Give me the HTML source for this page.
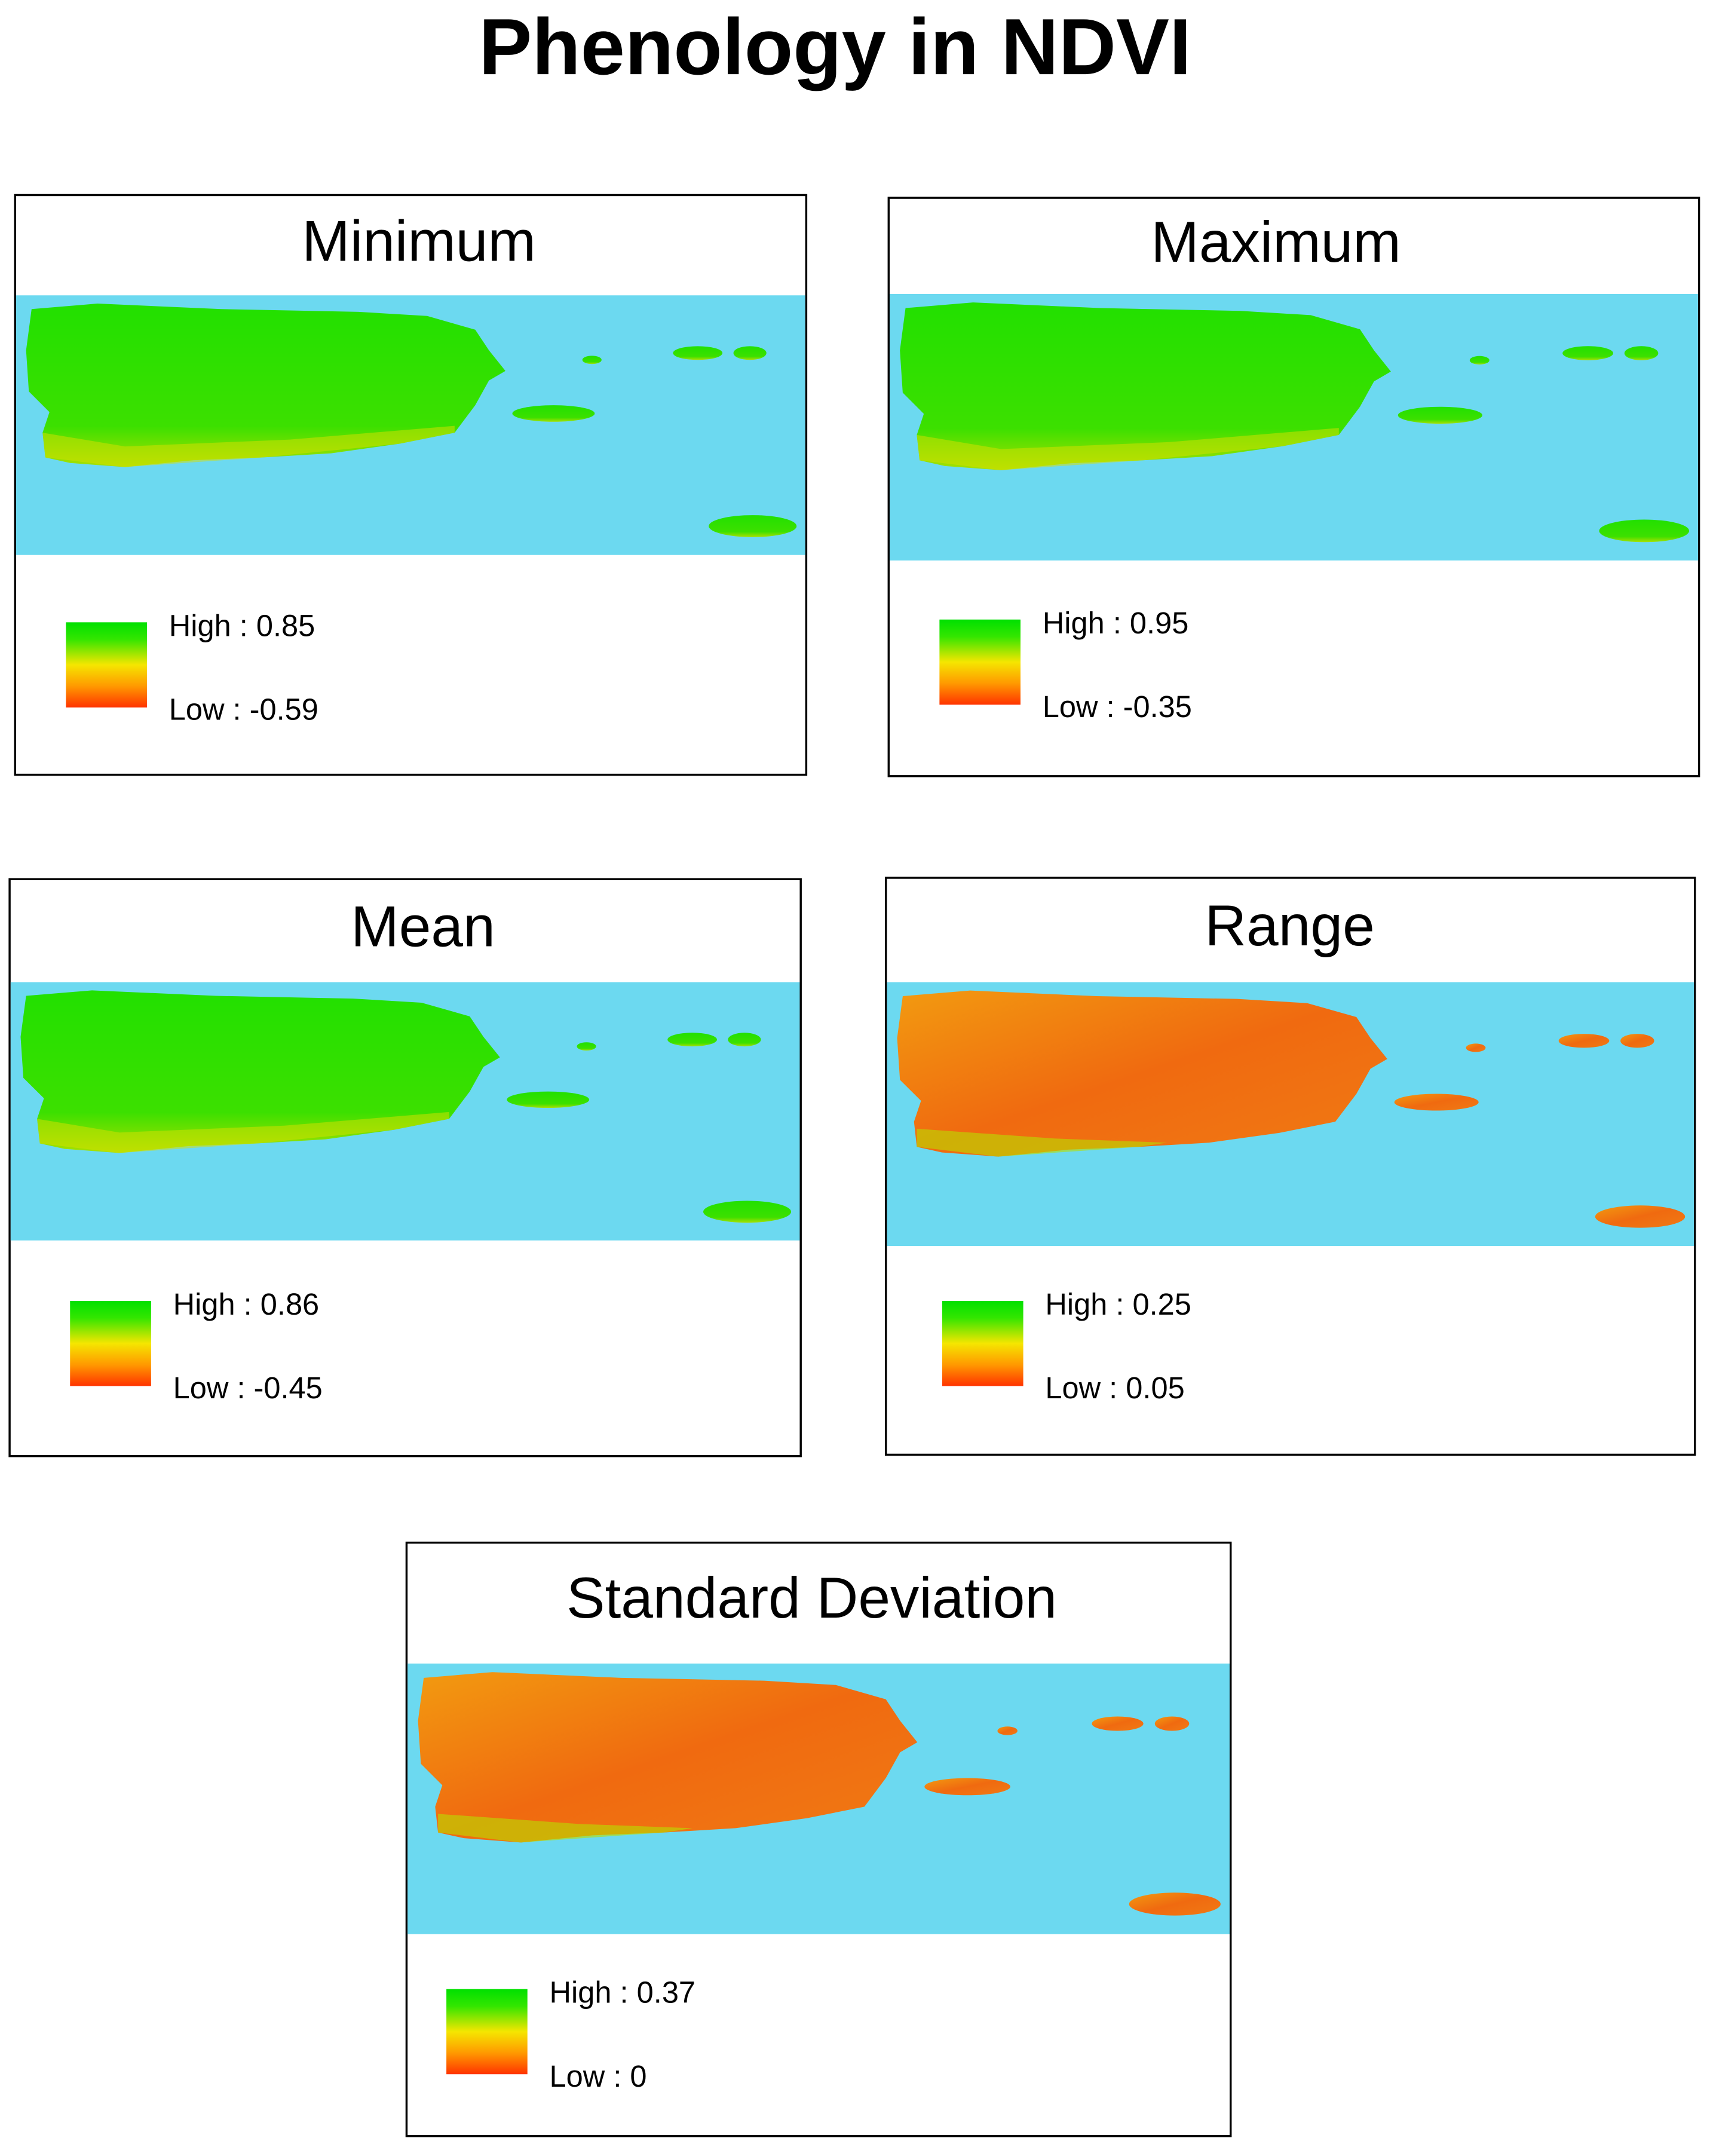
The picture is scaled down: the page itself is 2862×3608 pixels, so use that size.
<!DOCTYPE html>
<html><head><meta charset="utf-8">
<style>
html,body{margin:0;padding:0;background:#fff;}
svg{display:block;}
text{font-family:"Liberation Sans",sans-serif;fill:#000;}
</style></head>
<body>
<svg id="fig" xmlns="http://www.w3.org/2000/svg" width="2862" height="3608" viewBox="0 0 1245 1569.5">
<defs>
<linearGradient id="legendGrad" x1="0" y1="0" x2="0" y2="1">
<stop offset="0" stop-color="#00e000"/><stop offset="0.2" stop-color="#33e600"/>
<stop offset="0.5" stop-color="#f5e600"/><stop offset="0.75" stop-color="#ff9900"/>
<stop offset="1" stop-color="#ff3300"/></linearGradient>
<linearGradient id="greenTex" x1="0" y1="0" x2="0" y2="1">
<stop offset="0" stop-color="#22e000"/><stop offset="0.75" stop-color="#3ce000"/><stop offset="1" stop-color="#a8e000"/></linearGradient>
<linearGradient id="orangeTex" x1="0" y1="0" x2="1" y2="1">
<stop offset="0" stop-color="#f29a10"/><stop offset="0.5" stop-color="#f06a10"/><stop offset="1" stop-color="#f07a14"/></linearGradient>
</defs>
<text x="608" y="54" font-size="58" font-weight="bold" text-anchor="middle">Phenology in NDVI</text>
</svg>
<script>
const titles = ["Minimum","Maximum","Mean","Range","Standard Deviation"];
const highs = ["0.85","0.95","0.86","0.25","0.37"];
const lows = ["-0.59","-0.35","-0.45","0.05","0"];
const landFill = ["url(#greenTex)","url(#greenTex)","url(#greenTex)","url(#orangeTex)","url(#orangeTex)"];
// panel frames: x, y, w, h, mapTop, mapBottom, swatchX, swatchY, titleX
const frames = [
 [11,142,576,422,215,404,48,453,305],
 [647,144,590,421,214,408,684,451,929],
 [7,640,576,420,715,903,51,947,308],
 [645,639,589,420,715,907,686,947,939],
 [296,1123,600,432,1211,1408,325,1448,591]
];
const NS="http://www.w3.org/2000/svg";
const svg=document.getElementById('fig');
function el(t,a,p){const e=document.createElementNS(NS,t);for(const k in a)e.setAttribute(k,a[k]);(p||svg).appendChild(e);return e;}
const prPath="M12,10 L60,6 L150,10 L250,12 L300,15 L335,25 L345,40 L357,55 L345,62 L335,80 L320,100 L280,108 L230,115 L180,118 L130,120 L80,125 L40,122 L22,118 L20,100 L25,85 L10,70 L8,40 Z";
frames.forEach((f,i)=>{
 const [x,y,w,h,mt,mb,sx,sy,tx]=f;
 const g=el('g',{});
 
 
 const frame=el('rect',{x:x,y:y,width:w,height:h,fill:'#fff',stroke:'#000','stroke-width':1.5},g);
 
 
 const t=el('text',{x:tx,y:y+(mt-y)*0.45+15,'font-size':42,'text-anchor':'middle'},g);
 t.textContent=titles[i];
 
 
 const sea=el('rect',{x:x+0.75,y:mt,width:w-1.5,height:mb-mt,fill:'#6cd9f0'},g);
 
 
 const sxs=(w)/576, sys=(mb-mt)/189;
 const land=el('g',{transform:`translate(${x},${mt}) scale(${sxs},${sys})`,fill:landFill[i]},g);
 
 
 const pr=el('path',{d:prPath},land);
 
 
 [[392,86,30,6],[420,47,7,3],[497,42,18,5],[535,42,12,5],[537,168,32,8]].forEach(c=>{
  const e=el('ellipse',{cx:c[0],cy:c[1],rx:c[2],ry:c[3]},land);
  
  
 });
 if(i<3){
  const ov=el('path',{d:"M20,100 L80,110 L200,105 L320,95 L320,100 L280,108 L180,118 L80,125 L22,118 Z",fill:'#d8e000',opacity:0.5},land);
  
  
 } else {
  const ov=el('path',{d:"M22,105 L120,112 L200,115 L180,118 L80,125 L22,118 Z",fill:'#b8e000',opacity:0.6},land);
  
  
 }
 const sw=el('rect',{x:sx,y:sy,width:59,height:62,fill:'url(#legendGrad)'},g);
 
 
 const hi=el('text',{x:sx+75,y:sy+10,'font-size':22},g);
 hi.textContent='High : '+highs[i];
 
 
 const lo=el('text',{x:sx+75,y:sy+71,'font-size':22},g);
 lo.textContent='Low : '+lows[i];
 
 
});
</script>
</body></html>
